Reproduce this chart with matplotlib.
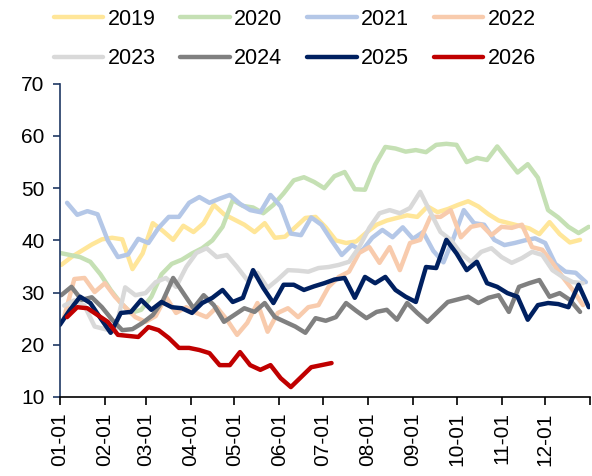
import numpy as np
import matplotlib
matplotlib.use('Agg')
import matplotlib.pyplot as plt

plt.rcParams['font.family'] = ['Liberation Sans Narrow', 'Liberation Sans', 'DejaVu Sans']

# Weekly values, one list per year
years = ['2019', '2020', '2021', '2022', '2023', '2024', '2025', '2026']
colors = ['#FFE699', '#C5E0B4', '#B4C7E7', '#F8CBAD', '#D9D9D9', '#808080', '#002060', '#C00000']
start_day = [1, 0, 5, 3, 3, 1, 0, 5]

v2019 = [35.3, 36.8, 38.0, 39.2, 40.2, 40.5, 40.2, 34.5, 37.5, 43.3, 41.8, 40.1, 42.8,
         41.6, 43.3, 46.8, 45.0, 44.0, 43.0, 41.6, 43.3, 40.5, 40.7, 42.5, 44.3, 44.5,
         42.5, 40.0, 39.5, 39.8, 41.5, 43.0, 43.8, 44.3, 44.8, 44.5, 46.5, 45.4, 46.0,
         46.8, 47.5, 46.5, 45.0, 43.8, 43.3, 42.8, 42.3, 41.2, 43.5, 41.2, 39.6, 40.1]
v2020 = [37.6, 37.2, 36.8, 35.9, 33.5, 30.5, 28.0, 26.1, 26.7, 29.2, 33.5, 35.5, 36.3,
         37.5, 38.5, 40.0, 42.6, 47.7, 46.6, 46.3, 45.2, 46.8, 49.0, 51.5, 52.1, 51.2,
         50.0, 52.3, 53.1, 49.8, 49.7, 54.5, 57.9, 57.6, 57.0, 57.3, 56.9, 58.3, 58.5,
         58.3, 55.0, 55.8, 55.4, 58.0, 55.5, 53.0, 54.6, 52.0, 45.8, 44.4, 42.6, 41.4, 42.6]
v2021 = [47.2, 44.9, 45.6, 45.0, 40.0, 36.8, 37.3, 40.3, 39.5, 42.4, 44.5, 44.5, 47.2,
         48.3, 47.2, 48.0, 48.7, 47.0, 45.8, 45.4, 48.7, 46.5, 41.3, 41.0, 44.4, 43.0,
         40.0, 37.2, 39.1, 38.0, 40.5, 42.0, 40.6, 42.5, 40.3, 41.6, 38.0, 35.8, 40.5,
         45.8, 43.3, 43.0, 40.1, 39.1, 39.5, 40.0, 40.4, 39.5, 35.5, 34.0, 33.8, 32.0]
v2022 = [25.3, 32.6, 32.8, 30.1, 31.8, 29.2, 27.2, 25.3, 24.4, 25.5, 29.2, 26.1, 27.2,
         26.1, 25.3, 27.2, 24.8, 21.9, 24.2, 28.0, 22.5, 26.1, 27.0, 25.3, 27.2, 27.6,
         31.1, 33.0, 34.0, 37.6, 38.7, 35.7, 38.7, 34.3, 39.5, 40.1, 44.5, 44.5, 45.8,
         40.6, 42.6, 43.0, 41.0, 42.6, 42.4, 43.0, 38.7, 38.2, 35.7, 33.0, 30.5, 27.6]
v2023 = [27.5, 28.5, 27.5, 23.5, 23.0, 22.5, 31.0, 29.5, 29.9, 32.0, 32.8, 31.1, 34.9,
         37.6, 38.5, 36.8, 37.2, 34.9, 32.4, 33.8, 30.9, 32.5, 34.3, 34.2, 34.0, 34.7,
         34.9, 35.3, 35.9, 38.7, 42.4, 45.2, 45.8, 45.2, 46.2, 49.3, 45.4, 41.6, 40.1,
         37.5, 35.9, 37.8, 38.5, 36.8, 35.7, 36.6, 37.8, 37.2, 34.3, 33.0, 32.0, 31.8]
v2024 = [29.5, 31.1, 28.6, 29.1, 27.2, 24.8, 22.8, 23.0, 24.2, 25.7, 28.5, 32.8, 29.9,
         27.0, 29.5, 27.6, 24.4, 25.7, 27.0, 26.3, 28.0, 25.3, 24.4, 23.5, 22.3, 25.1,
         24.6, 25.3, 28.0, 26.5, 25.1, 26.3, 26.7, 24.8, 28.0, 26.1, 24.4, 26.3, 28.2,
         28.7, 29.2, 28.0, 29.0, 29.5, 26.3, 31.1, 31.8, 32.4, 29.2, 29.9, 28.6, 26.3]
v2025 = [23.8, 26.7, 29.2, 28.0, 25.1, 22.3, 26.1, 26.3, 28.6, 26.7, 28.2, 27.2, 27.0,
         26.1, 28.0, 29.0, 30.5, 28.2, 29.0, 34.3, 30.9, 28.0, 31.5, 31.5, 30.5, 31.2,
         31.8, 32.5, 32.8, 29.0, 33.0, 31.8, 33.0, 30.5, 29.2, 28.2, 34.9, 34.7, 40.1,
         37.5, 34.3, 35.9, 31.8, 31.1, 29.9, 29.2, 24.8, 27.6, 28.0, 27.8, 27.2, 31.5, 27.2]
v2026 = [25.3, 27.2, 27.0, 25.7, 24.4, 21.9, 21.7, 21.5, 23.4, 22.8, 21.3, 19.4, 19.4,
         19.0, 18.4, 16.1, 16.1, 18.6, 16.1, 15.2, 16.1, 13.6, 11.9, 13.8, 15.7, 16.1, 16.5]
series = [v2019, v2020, v2021, v2022, v2023, v2024, v2025, v2026]

# Month-start ticks (day of year)
month_days = [0, 31, 59, 90, 120, 151, 181, 212, 243, 273, 304, 334, 365]
month_labels = ['01-01', '02-01', '03-01', '04-01', '05-01', '06-01',
                '07-01', '08-01', '09-01', '10-01', '11-01', '12-01', '']

fig = plt.figure(figsize=(5.92, 4.76), dpi=100)
ax = fig.add_axes([0.101, 0.166, 0.896, 0.658])

lines = []
for year, vals, col, s in zip(years, series, colors, start_day):
    x = s + 7 * np.arange(len(vals))
    ln, = ax.plot(x, vals, color=col, lw=3.2, label=year, solid_capstyle='round')
    lines.append(ln)

ax.set_xlim(0, 365)
ax.set_ylim(10, 70)
ax.set_yticks(range(10, 71, 10))
ax.set_xticks(month_days)
ax.set_xticklabels(month_labels, rotation=90)

for side in ['top', 'right']:
    ax.spines[side].set_visible(False)
ax.spines['left'].set_color('#1F3864')
ax.spines['left'].set_linewidth(1.2)
ax.spines['bottom'].set_color('black')
ax.spines['bottom'].set_linewidth(1.2)
ax.tick_params(axis='y', colors='#1F3864', labelcolor='black', length=5, width=1.2,
               labelsize=15, pad=6)
ax.tick_params(axis='x', length=6, width=1.2, labelsize=15, pad=5)

# legend fills column by column, so reorder to read row by row
order = [0, 4, 1, 5, 2, 6, 3, 7]
leg = fig.legend([lines[i] for i in order], [years[i] for i in order],
                 loc='upper left', bbox_to_anchor=(0.058, 1.022), ncol=4, frameon=False,
                 fontsize=15.5, handlelength=2.3, handletextpad=0.2, columnspacing=1.15,
                 labelspacing=0.85)

fig.savefig('out.png', dpi=100)
